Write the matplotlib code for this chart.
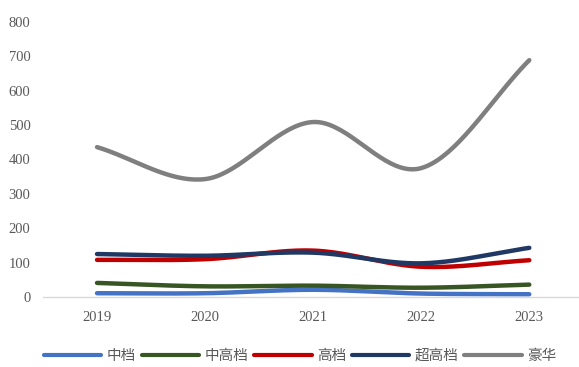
import numpy as np
import matplotlib
matplotlib.use("Agg")
import matplotlib.pyplot as plt

years = ["2019", "2020", "2021", "2022", "2023"]
mid = [11, 11, 21, 10, 8]
mid_high = [41, 31, 33, 27, 36]
high = [108, 110, 135, 88, 107]
ultra = [125, 120, 129, 98, 143]
luxury = [436, 343, 509, 375, 689]

names = ["中档", "中高档", "高档", "超高档", "豪华"]
colors = ["#4472C4", "#375623", "#C00000", "#203864", "#7F7F7F"]
series = [mid, mid_high, high, ultra, luxury]


def smooth(x, y, n=40):
    # Catmull-Rom style smoothing similar to Excel smoothed lines
    x = np.asarray(x, float)
    y = np.asarray(y, float)
    px = np.concatenate([[2 * x[0] - x[1]], x, [2 * x[-1] - x[-2]]])
    py = np.concatenate([[2 * y[0] - y[1]], y, [2 * y[-1] - y[-2]]])
    xs, ys = [], []
    for i in range(1, len(px) - 2):
        t = np.linspace(0, 1, n)
        p0, p1, p2, p3 = (np.array([px[j], py[j]]) for j in range(i - 1, i + 3))
        c1 = p1 + (p2 - p0) / 6
        c2 = p2 - (p3 - p1) / 6
        pts = ((1 - t) ** 3)[:, None] * p1 + (3 * (1 - t) ** 2 * t)[:, None] * c1 \
            + (3 * (1 - t) * t ** 2)[:, None] * c2 + (t ** 3)[:, None] * p2
        xs.extend(pts[:, 0])
        ys.extend(pts[:, 1])
    return np.array(xs), np.array(ys)


fig = plt.figure(figsize=(5.79, 3.67), dpi=100)
ax = fig.add_axes([43 / 579, 70 / 367, 536 / 579, 275 / 367])

xpos = np.arange(len(years))
for vals, name, c in zip(series, names, colors):
    sx, sy = smooth(xpos, vals)
    ax.plot(sx, sy, color=c, lw=3.2, solid_capstyle="round", label=name)

ax.set_xlim(-0.5, 4.46)
ax.set_ylim(0, 800)
ax.set_yticks(range(0, 801, 100))
ax.set_xticks(xpos)
ax.set_xticklabels(years)
for s in ["top", "right", "left"]:
    ax.spines[s].set_visible(False)
ax.spines["bottom"].set_color("#D9D9D9")
ax.spines["bottom"].set_linewidth(1)
ax.tick_params(axis="both", length=0, colors="#595959", labelsize=10.5)
ax.tick_params(axis="y", pad=9)
ax.tick_params(axis="x", pad=10)
for lab in ax.get_xticklabels() + ax.get_yticklabels():
    lab.set_fontfamily(["Liberation Serif", "DejaVu Serif"])

leg = fig.legend(loc="center", bbox_to_anchor=(300 / 579, 1 - 356 / 367), ncol=5,
                 frameon=False, handlelength=3.95, handletextpad=0.35, columnspacing=0.4,
                 prop={"family": ["Noto Sans CJK SC", "DejaVu Sans"], "size": 10.5})
for line in leg.get_lines():
    line.set_linewidth(3.0)
for t in leg.get_texts():
    t.set_color("#595959")

fig.savefig("out.png", dpi=100)
